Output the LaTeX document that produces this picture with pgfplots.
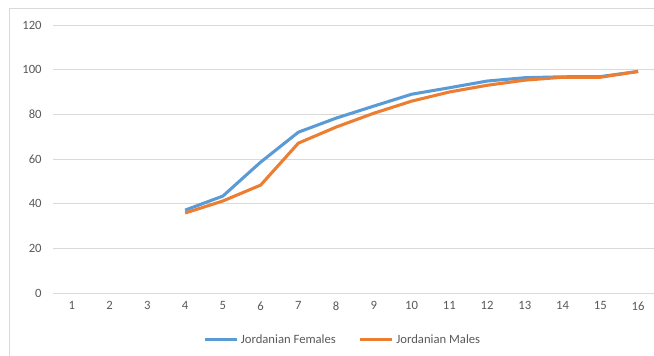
\documentclass[border=0pt]{standalone}
\usepackage{fontspec}
\setmainfont{Carlito}
\usepackage{pgfplots}
\pgfplotsset{compat=1.18}
\definecolor{fem}{HTML}{5B9BD5}
\definecolor{mal}{HTML}{ED7D31}
\definecolor{gridc}{HTML}{D9D9D9}
\definecolor{txt}{HTML}{595959}
\begin{document}
\begin{tikzpicture}
\useasboundingbox (0,0) rectangle (490.5pt,267pt);
\draw[gridc, line width=0.6pt] (6.75pt,0) -- (6.75pt,261pt) -- (490.5pt,261pt);
\begin{axis}[
  at={(39.75pt,47.25pt)}, anchor=south west,
  scale only axis, width=450.75pt, height=201pt,
  xmin=0.5, xmax=16.42, ymin=0, ymax=120,
  xtick={1,...,16}, ytick={0,20,...,120},
  ymajorgrids, grid style={gridc, line width=0.6pt},
  axis line style={draw=none},
  tick style={draw=none},
  ticklabel style={font=\fontsize{9.5}{11}\selectfont, text=txt},
  /pgf/number format/assume math mode=true,
  yticklabel style={xshift=-5pt},
  xticklabel style={yshift=-3pt},
  legend columns=2,
  legend style={at={(0.4825,-0.175)}, anchor=center, draw=none, fill=none,
    font=\fontsize{9.5}{11}\selectfont, text=txt,
    /tikz/every even column/.append style={column sep=15pt}},
  legend image code/.code={\draw[#1] (0pt,0pt) -- (24pt,0pt);},
]
\addplot[fem, line width=2.3pt] coordinates {
(4,37.1) (5,43.4) (6,58.6) (7,72) (8,78.3) (9,83.7) (10,89) (11,91.9) (12,94.9) (13,96.4) (14,96.8) (15,96.9) (16,99.2)};
\addlegendentry{Jordanian Females}
\addplot[mal, line width=2.3pt] coordinates {
(4,35.8) (5,41.2) (6,48.3) (7,67.1) (8,74.3) (9,80.5) (10,85.9) (11,90) (12,93) (13,95.3) (14,96.6) (15,96.6) (16,99.2)};
\addlegendentry{Jordanian Males}
\end{axis}
\end{tikzpicture}
\end{document}
